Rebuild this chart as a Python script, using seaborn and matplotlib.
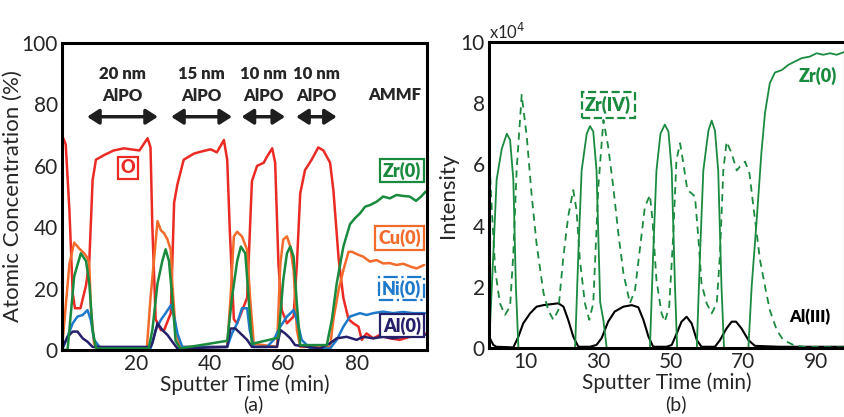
import numpy as np
import pandas as pd
import matplotlib.pyplot as plt
import seaborn as sns

# ---- panel (a): atomic concentration (%) vs sputter time (min)
o_t = [0, 1, 2, 2.9, 3.5, 5, 6.5, 7.4, 8.3, 9.2, 11.4, 14, 16.8, 21, 23.2, 24, 24.5, 25.4, 26.8, 27.7,
       29.5, 30.4, 31.3, 33, 35.8, 37.6, 40.3, 42, 43.9, 44.8, 45.5, 46.6, 47.5, 50.2, 51.5, 52.9, 54.7,
       55.6, 57, 57.8, 58.7, 59.6, 61, 62.8, 63.7, 64.6, 65.9, 67.7, 69.5, 70.9, 72.7, 73.6, 75, 76.3,
       77.7, 79, 80.4, 81.3, 82.6, 84.4, 86.2, 88.9, 91.6, 94.3, 97, 98.4]
o_v = [70, 67, 45.6, 18.5, 13.6, 13.6, 21, 29, 55.4, 62, 63.5, 65, 65.7, 65, 69, 66, 40, 10, 6.5, 6.5,
       12, 48, 54, 62, 64, 64.6, 65.4, 64.4, 68.4, 62, 39, 10, 8.7, 17, 55, 60, 61,
       63, 65.7, 61, 28, 13, 8.7, 10.9, 28, 51, 58.6, 62, 66, 65, 61, 52, 30, 17,
       10, 8.7, 7.6, 3.3, 5.4, 3.8, 4.9, 3.8, 3.3, 4.3, 6.5, 5.4]

cu_t = [0, 2, 3.3, 4.7, 6, 6.9, 7.4, 7.8, 8.7, 10.5, 23, 24, 25.9, 26.8, 27.7, 28.6, 29.5, 29.9, 30.8,
        32, 44.8, 45.7, 46.6, 47.5, 48.8, 50.2, 51, 52, 58.3, 59.2, 60, 61, 61.9, 62.8, 63.7, 64.6,
        72.7, 73.6, 75, 76.3, 77.7, 78.6, 80.4, 81.7, 83.5, 85.3, 87.1, 88.9, 90.7, 92.5, 94.9,
        96.2, 98.2]
cu_v = [0.5, 28, 35, 33, 31.5, 30, 28, 14, 2, 0.5, 0.5, 17, 42, 39, 38, 36, 32.5, 21.7, 6.5,
        1, 1, 17, 37, 38.5, 37, 32.6, 17, 2, 1, 28, 36, 37, 33.7, 26, 6.5, 1,
        1, 10, 19.5, 26, 32, 32, 31, 30.4, 28.8, 29.3, 28.2, 28.3, 27.7, 28.1, 27,
        26.6, 27.7]

zr_t = [0, 1.5, 2.4, 3.3, 5.1, 6.5, 7.4, 8.3, 9.2, 23.5, 24.5, 25.9, 27.2, 28.1, 29, 29.9, 30.8, 32,
        44.8, 46.1, 47.5, 48.5, 49.7, 50.6, 51.5, 58.7, 60, 61, 61.9, 62.8, 63.7, 64.6, 71.8, 73.2,
        74.5, 76.3, 78.1, 79.5, 80.8, 82.2, 83.5, 85.3, 87.1, 88.9, 90.7, 92.5, 94.3, 96, 97.4, 98.6]
zr_v = [0, 0, 12, 24, 31.5, 29, 21.7, 6.5, 0.5, 0.5, 6.5, 21.7, 29, 32.8, 29, 17, 3, 0.5,
        3, 17, 29, 33.7, 31.5, 17, 2, 4, 22.8, 31.5, 33.7, 30.4, 15, 1.6, 1.6, 10,
        21.7, 33.7, 41, 43, 44.5, 46.7, 47.2, 48.3, 50, 49.4, 50.5, 50.2, 50, 48.6, 50, 51.6]

ni_t = [0, 1.5, 2.9, 4.2, 5.6, 6.9, 7.8, 8.7, 10.5, 24, 25.4, 26.8, 28.1, 29.6, 30.4, 31.3, 32.6,
        44.8, 46.1, 47.5, 48.8, 50.2, 50.9, 52, 55.6, 57.4, 59.2, 61, 62.8, 63.7, 65, 67.3, 72.7,
        74.5, 76.3, 78.1, 80.8, 82.6, 84.4, 87.1, 89.8, 92.5, 95.2, 98.4]
ni_v = [0, 4.3, 8.7, 10.9, 11.4, 13, 9.8, 3.3, 0.5, 0.5, 6.5, 9.8, 12, 14.7, 10.9, 5.4, 1,
        1, 5.4, 8.7, 13.6, 13.6, 6.5, 1, 1, 3.3, 7.6, 10.9, 13, 9.8, 3.3, 0.5, 0.5,
        3.3, 7.6, 10.9, 12, 11.4, 12, 12.5, 12, 12.4, 12, 12]

al_t = [0, 1.5, 2.9, 4.2, 5.6, 6.9, 8.3, 24, 24.5, 25.9, 27.2, 28.6, 29.9, 31.3, 44.8, 45.7, 47,
        48.4, 50.2, 51.5, 58.3, 59.2, 60.5, 61.9, 63.2, 70, 72.7, 74.5, 77.2, 79.9, 81.7, 84.4,
        87.1, 89.8, 92.5, 95.2, 98.4]
al_v = [0.5, 4.3, 6, 6, 3.8, 2.7, 1, 1, 2.2, 8.7, 6.5, 4.9, 2.7, 0.5, 1, 7, 7,
        5.4, 3.3, 1, 1, 6.5, 5.4, 3.8, 1.6, 0.5, 2.2, 3.8, 4.3, 3.3, 4.3, 3.8,
        4.3, 3.8, 4.3, 4.3, 4.9]

# ---- panel (b): intensity (x10^4) vs sputter time (min)
zr0_t = [0, 1.2, 2.1, 3.5, 4.9, 5.8, 6.7, 7.4, 8.1, 23.7, 24.6, 25.5, 26.9, 27.8, 28.7, 29.6, 30.6,
         31.5, 32.4, 44.3, 45.2, 46.1, 47.2, 48.4, 49.4, 50.3, 51.2, 51.8, 57.2, 58.1, 59, 60.4,
         61.3, 62.2, 63.1, 64, 64.7, 71.4, 72.3, 73.7, 75, 76, 77.3, 78.7, 80.6, 82.4, 84.2, 86.1,
         88.3, 90.2, 92, 93.9, 95.7, 98]
zr0_v = [0, 3.1, 5.5, 6.5, 7.0, 6.8, 5.5, 2, 0, 0, 3.1, 5.8, 7, 7.25, 7.07, 5.8, 1.5,
         0.9, 0, 0, 3.1, 5.8, 7, 7.3, 7.07, 5.8, 2, 0, 0, 3.1, 5.8, 7.1,
         7.43, 7.1, 5.8, 2, 0, 0, 2, 4.2, 6.4, 7.7, 8.65, 9.0, 9.08, 9.25, 9.36, 9.47,
         9.52, 9.63, 9.58, 9.63, 9.58, 9.68]

zr4_t = [0, 0.7, 1.7, 3, 4.4, 5.8, 6.7, 7.6, 9, 10.4, 11.7, 13.1, 15, 16.3, 17.7, 19.1, 20.4, 21.8,
         23.2, 24.1, 25, 26.4, 27.6, 28.7, 30.1, 31.5, 32.8, 34.2, 35.6, 37, 38.8, 40.2, 41.6, 42.9,
         44.3, 45, 46.1, 47.5, 48.4, 49.6, 50.7, 51.6, 52.6, 53.5, 54.6, 55.8, 56.7, 57.6, 58.5,
         59.9, 61.3, 62.7, 63.6, 64.5, 65.4, 66.8, 68.2, 69.1, 70.5, 71.7, 72.8, 73.7, 74.6, 76,
         77.3, 79.2, 81, 83.8, 86.5, 98]
zr4_v = [6.4, 4.7, 2.55, 1.46, 1.08, 1.35, 3.1, 5.8, 8.27, 6.9, 5.05, 3.4, 1.8, 1.24, 0.92, 1.24, 2.9, 4.3,
         5.16, 4.5, 2.9, 1.46, 0.92, 1.46, 5.27, 7.45, 6.58, 5.27, 3.75, 2.44, 1.46, 1.9, 3.3, 4.6,
         5.0, 4.18, 2.22, 1.13, 0.86, 1.35, 3.64, 6.14, 6.69, 6.03, 5.16, 5.05, 4.95, 3.64, 2.11,
         1.46, 1.13, 1.46, 3.1, 5.8, 6.74, 6.36, 5.8, 5.93, 6.09, 5.7, 4.6, 3.75, 2.88, 2.0,
         1.24, 0.59, 0.26, 0.1, 0.04, 0.02]

al3_t = [0, 0.3, 1.2, 2, 6.7, 8.1, 9.4, 11.3, 13.1, 15, 17.7, 19.1, 20.5, 21.8, 23.2, 24.6, 27.8,
         29.6, 31, 32.8, 34.6, 37, 39.3, 41.1, 42.5, 43.9, 45.2, 48.9, 50.3, 51.7, 53, 54.4, 55.8,
         57.2, 58.5, 62.2, 63.6, 65.4, 66.8, 68, 69.5, 71.4, 73.2, 80, 90, 98]
al3_v = [0.1, 0.3, 0.1, 0.04, 0.02, 0.37, 0.8, 1.13, 1.35, 1.4, 1.44, 1.46, 1.35, 0.92, 0.37, 0.04, 0.04,
         0.1, 0.32, 0.86, 1.19, 1.35, 1.4, 1.33, 0.92, 0.37, 0.04, 0.04, 0.1, 0.48, 0.86, 1.02, 0.8,
         0.26, 0.04, 0.04, 0.26, 0.64, 0.86, 0.86, 0.64, 0.26, 0.07, 0.04, 0.04, 0.04]

layers = ["20 nm\nAlPO", "15 nm\nAlPO", "10 nm\nAlPO", "10 nm\nAlPO"]
layer_span = [(6.8, 26), (29.6, 46.1), (48.7, 60.5), (63.5, 74.5)]

sns.set_style("white")
plt.rcParams['font.family'] = ['Lato', 'DejaVu Sans']

fig = plt.figure(figsize=(8.45, 4.17), dpi=100)
ax1 = fig.add_axes([0.0734, 0.1607, 0.432, 0.736])
ax2 = fig.add_axes([0.5787, 0.1655, 0.4213, 0.734])

red = '#ec2a24'
orange = '#f36b2b'
green = '#1a8a3e'
blue = '#1f7acb'
navy = '#26206b'

left_series = [(o_t, o_v, red), (cu_t, cu_v, orange), (ni_t, ni_v, blue),
               (al_t, al_v, navy), (zr_t, zr_v, green)]
for t, v, c in left_series:
    sns.lineplot(x=t, y=v, ax=ax1, color=c, lw=1.8, estimator=None, sort=False)

ax1.set_xlim(0, 99)
ax1.set_ylim(0, 100)
ax1.set_xticks([20, 40, 60, 80])
ax1.set_xticks(range(10, 100, 10), minor=True)
ax1.set_yticks(range(0, 101, 20))
ax1.set_yticks(range(10, 100, 20), minor=True)
ax1.set_xlabel("Sputter Time (min)", fontsize=15, labelpad=0)
ax1.set_ylabel("Atomic Concentration (%)", fontsize=16, labelpad=-1)

for (lab, (a, b)) in zip(layers, layer_span):
    ax1.text((a + b) / 2, 80, lab, ha='center', va='bottom', fontsize=12,
             fontweight='heavy', linespacing=1.5)
    ax1.annotate('', xy=(b, 76), xytext=(a, 76),
                 arrowprops=dict(arrowstyle='<|-|>,head_length=0.7,head_width=0.45',
                                 lw=2.5, color='#1e1e1e', shrinkA=0, shrinkB=0))
ax1.text(97.5, 83, "AMMF", ha='right', va='center', fontsize=12, fontweight='heavy')

box = dict(boxstyle='square,pad=0.15', fc='white', lw=1.6)
ax1.text(17.8, 59.3, "O", color=red, ha='center', va='center', fontsize=13, fontweight='heavy',
         bbox=dict(box, ec=red))
ax1.text(97.3, 58.5, "Zr(0)", color=green, ha='right', va='center', fontsize=13, fontweight='heavy',
         bbox=dict(box, ec=green))
ax1.text(97.3, 36.5, "Cu(0)", color=orange, ha='right', va='center', fontsize=13, fontweight='heavy',
         bbox=dict(box, ec=orange))
ax1.text(97.3, 20, "Ni(0)", color=blue, ha='right', va='center', fontsize=13, fontweight='heavy',
         bbox=dict(box, ec=blue, ls='-.'))
ax1.text(97.3, 8, "Al(0)", color=navy, ha='right', va='center', fontsize=13, fontweight='heavy',
         bbox=dict(box, ec=navy))

sns.lineplot(x=al3_t, y=al3_v, ax=ax2, color='black', lw=1.5, estimator=None, sort=False)
sns.lineplot(x=zr4_t, y=zr4_v, ax=ax2, color=green, lw=1.3, linestyle=(0, (4, 3)),
             estimator=None, sort=False)
sns.lineplot(x=zr0_t, y=zr0_v, ax=ax2, color=green, lw=1.3, estimator=None, sort=False)

ax2.set_xlim(0, 98)
ax2.set_ylim(0, 10)
ax2.set_xticks([10, 30, 50, 70, 90])
ax2.set_xticks(range(20, 100, 20), minor=True)
ax2.set_yticks(range(0, 11, 2))
ax2.set_yticks(range(1, 10, 2), minor=True)
ax2.set_xlabel("Sputter Time (min)", fontsize=15, labelpad=0)
ax2.set_ylabel("Intensity", fontsize=16, labelpad=2)
ax2.text(0, 1.0, r"x10$^4$", transform=ax2.transAxes, ha='left', va='bottom', fontsize=12)

ax2.text(90.6, 8.9, "Zr(0)", color=green, ha='center', va='center', fontsize=13, fontweight='heavy')
ax2.text(32.8, 7.94, "Zr(IV)", color=green, ha='center', va='center', fontsize=13, fontweight='heavy',
         bbox=dict(boxstyle='square,pad=0.2', fc='white', ec=green, lw=1.6, ls='--'))
ax2.text(88.4, 1.0, "Al(III)", color='black', ha='center', va='center', fontsize=12, fontweight='heavy')

for ax in (ax1, ax2):
    for s in ax.spines.values():
        s.set_linewidth(2.2)
        s.set_color('black')
    ax.tick_params(which='both', direction='in', width=1.8, labelsize=15, pad=3)
    ax.tick_params(which='major', length=7)
    ax.tick_params(which='minor', length=7)
    ax.tick_params(axis='y', right=False)
    ax.tick_params(axis='x', top=False)

fig.text(0.30, 0.03, "(a)", ha='center', va='center', fontsize=14)
fig.text(0.80, 0.03, "(b)", ha='center', va='center', fontsize=14)

fig.savefig("out.png", dpi=100)
